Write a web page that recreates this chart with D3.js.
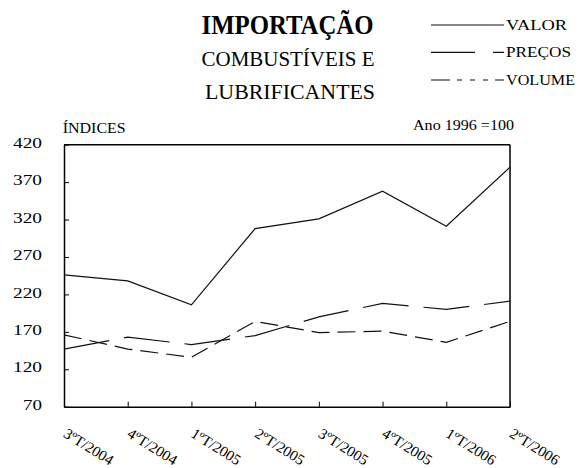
<!DOCTYPE html>
<html>
<head>
<meta charset="utf-8">
<script src="https://cdn.jsdelivr.net/npm/d3@7"></script>
<style>
  html, body { margin: 0; padding: 0; background: #fff; }
  svg text { font-family: "Liberation Serif", "Times New Roman", serif; fill: #000; }
</style>
</head>
<body>
<svg id="chart" width="580" height="468"></svg>
<script>
const categories = ["3ºT/2004", "4ºT/2004", "1ºT/2005", "2ºT/2005", "3ºT/2005", "4ºT/2005", "1ºT/2006", "2ºT/2006"];
const valor   = [246, 238, 206, 308, 321, 358, 311, 390];
const precos  = [147, 163, 153, 165, 190, 208, 200, 211];
const volume  = [166, 147, 136, 184, 169, 171, 156, 184];
const yTicks  = [70, 120, 170, 220, 270, 320, 370, 420];
const seriesNames = ["VALOR", "PREÇOS", "VOLUME"];

const svg = d3.select("#chart");

const x = d3.scalePoint().domain(categories).range([64, 510]);
const y = d3.scaleLinear().domain([70, 420]).range([406.7, 144.7]);

function fitText(sel, w) {
  sel.each(function () {
    this.setAttribute("textLength", w);
    this.setAttribute("lengthAdjust", "spacingAndGlyphs");
  });
  return sel;
}

// Titles
fitText(svg.append("text").attr("x", 287.5).attr("y", 34).attr("text-anchor", "middle")
  .attr("font-size", 28).attr("font-weight", "bold").text("IMPORTAÇÃO"), 172);
fitText(svg.append("text").attr("x", 288).attr("y", 65.7).attr("text-anchor", "middle")
  .attr("font-size", 21).text("COMBUSTÍVEIS E"), 173);
fitText(svg.append("text").attr("x", 290).attr("y", 99).attr("text-anchor", "middle")
  .attr("font-size", 21).text("LUBRIFICANTES"), 170);

// Y axis title & base note
fitText(svg.append("text").attr("x", 62.7).attr("y", 133).attr("font-size", 15).text("ÍNDICES"), 63);
fitText(svg.append("text").attr("x", 413).attr("y", 129.5).attr("font-size", 14).text("Ano 1996 =100"), 101);

// Legend
const legendY = [25, 52.3, 80];
const legendDash = [null, "44,18,11", "19,7,5,8,5,8,5,7,9"];
const legendW = [61, 65, 69];
seriesNames.forEach((name, i) => {
  svg.append("line").attr("x1", 431).attr("x2", 504)
    .attr("y1", legendY[i]).attr("y2", legendY[i])
    .attr("stroke", "#111").attr("stroke-width", 1.2)
    .attr("stroke-dasharray", legendDash[i]);
  fitText(svg.append("text").attr("x", 506).attr("y", legendY[i] + 5)
    .attr("font-size", 14).text(name), legendW[i]);
});

// Axes
const yAxis = d3.axisLeft(y).tickValues(yTicks).tickSize(-5).tickSizeOuter(0).tickPadding(22);
const gy = svg.append("g").attr("transform", "translate(64,0)").call(yAxis);
gy.select(".domain").attr("stroke", "#000").attr("stroke-width", 1.5);
gy.selectAll(".tick line").attr("stroke", "#000").attr("stroke-width", 1);
gy.selectAll("text").attr("font-size", 15).attr("font-family", null).attr("dy", "0.18em")
  .each(function (d) {
    this.setAttribute("textLength", String(d).length === 3 ? 29 : 19);
    this.setAttribute("lengthAdjust", "spacingAndGlyphs");
  });

const xAxis = d3.axisBottom(x).tickSize(-5).tickSizeOuter(0);
const gx = svg.append("g").attr("transform", `translate(0,${y(70)})`).call(xAxis);
gx.select(".domain").attr("stroke", "#000").attr("stroke-width", 1.5);
gx.selectAll(".tick line").attr("stroke", "#000").attr("stroke-width", 1);
gx.selectAll("text").attr("font-size", 15).attr("font-family", null)
  .attr("text-anchor", "start").attr("y", 0).attr("dy", 0)
  .attr("transform", "translate(-2,29.5) rotate(32)");

// Frame top & right
svg.append("line").attr("x1", x.range()[0]).attr("x2", x.range()[1])
  .attr("y1", y(420)).attr("y2", y(420)).attr("stroke", "#000").attr("stroke-width", 1.5);
svg.append("line").attr("x1", x.range()[1]).attr("x2", x.range()[1])
  .attr("y1", y(420)).attr("y2", y(70)).attr("stroke", "#000").attr("stroke-width", 1.5);

// Series
const line = d3.line().x((d, i) => x(categories[i])).y(d => y(d));
const series = [valor, precos, volume];
const dashes = [null, "46,15", "18,8"];
series.forEach((s, i) => {
  svg.append("path").datum(s).attr("d", line)
    .attr("fill", "none").attr("stroke", "#111").attr("stroke-width", 1.2)
    .attr("stroke-dasharray", dashes[i]);
});
</script>
</body>
</html>
